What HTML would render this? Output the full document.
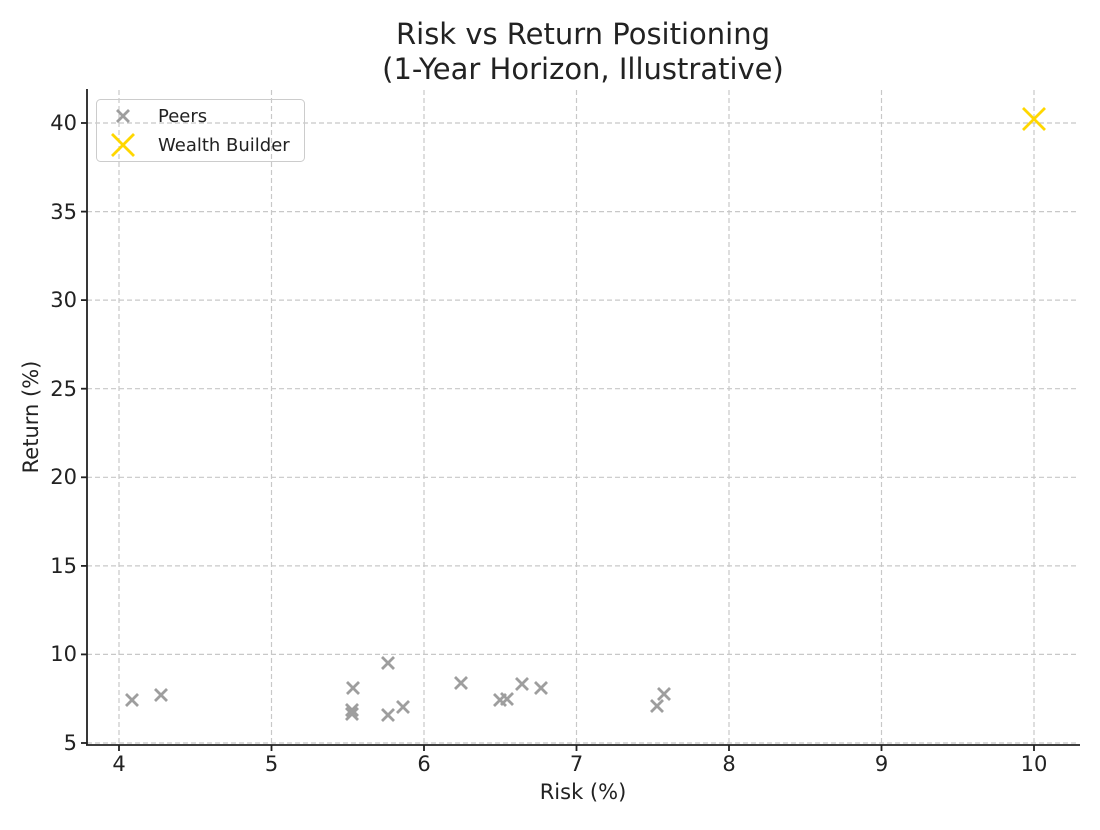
<!DOCTYPE html>
<html><head><meta charset="utf-8"><style>
body{margin:0;background:#fff;}
svg text{font-family:"DejaVu Sans","Liberation Sans",sans-serif;fill:#222;}
</style></head><body>
<svg width="1100" height="825" xmlns="http://www.w3.org/2000/svg">
<rect width="1100" height="825" fill="#fff"/>
<text x="583" y="44" text-anchor="middle" font-size="29" fill="#333">Risk vs Return Positioning</text>
<text x="583" y="79" text-anchor="middle" font-size="29" fill="#333">(1-Year Horizon, Illustrative)</text>
<g stroke="#c8c8c8" stroke-width="1.2" stroke-dasharray="5,3">
<line x1="119" y1="90" x2="119" y2="744"/><line x1="271.5" y1="90" x2="271.5" y2="744"/>
<line x1="424" y1="90" x2="424" y2="744"/><line x1="576.5" y1="90" x2="576.5" y2="744"/>
<line x1="729" y1="90" x2="729" y2="744"/><line x1="881.5" y1="90" x2="881.5" y2="744"/>
<line x1="1034" y1="90" x2="1034" y2="744"/>
<line x1="87" y1="743" x2="1079" y2="743"/><line x1="87" y1="654.4" x2="1079" y2="654.4"/>
<line x1="87" y1="565.9" x2="1079" y2="565.9"/><line x1="87" y1="477.3" x2="1079" y2="477.3"/>
<line x1="87" y1="388.7" x2="1079" y2="388.7"/><line x1="87" y1="300.1" x2="1079" y2="300.1"/>
<line x1="87" y1="211.6" x2="1079" y2="211.6"/><line x1="87" y1="123" x2="1079" y2="123"/>
</g>
<g stroke="#222" stroke-width="1.8">
<line x1="87" y1="89" x2="87" y2="745"/><line x1="86" y1="745" x2="1080" y2="745"/>
<line x1="119" y1="745" x2="119" y2="751"/><line x1="271.5" y1="745" x2="271.5" y2="751"/>
<line x1="424" y1="745" x2="424" y2="751"/><line x1="576.5" y1="745" x2="576.5" y2="751"/>
<line x1="729" y1="745" x2="729" y2="751"/><line x1="881.5" y1="745" x2="881.5" y2="751"/>
<line x1="1034" y1="745" x2="1034" y2="751"/>
<line x1="81" y1="743" x2="87" y2="743"/><line x1="81" y1="654.4" x2="87" y2="654.4"/>
<line x1="81" y1="565.9" x2="87" y2="565.9"/><line x1="81" y1="477.3" x2="87" y2="477.3"/>
<line x1="81" y1="388.7" x2="87" y2="388.7"/><line x1="81" y1="300.1" x2="87" y2="300.1"/>
<line x1="81" y1="211.6" x2="87" y2="211.6"/><line x1="81" y1="123" x2="87" y2="123"/>
</g>
<g font-size="21" text-anchor="middle">
<text x="119" y="771">4</text><text x="271.5" y="771">5</text><text x="424" y="771">6</text>
<text x="576.5" y="771">7</text><text x="729" y="771">8</text><text x="881.5" y="771">9</text>
<text x="1034" y="771">10</text>
</g>
<g font-size="21" text-anchor="end">
<text x="77" y="750">5</text><text x="77" y="661">10</text><text x="77" y="573">15</text>
<text x="77" y="484">20</text><text x="77" y="396">25</text><text x="77" y="307">30</text>
<text x="77" y="219">35</text><text x="77" y="130">40</text>
</g>
<text x="583" y="799" text-anchor="middle" font-size="21">Risk (%)</text>
<text transform="translate(38,417) rotate(-90)" text-anchor="middle" font-size="21">Return (%)</text>
<g stroke="#9e9e9e" stroke-width="2.8" fill="none">
<path d="M126,694l12,12m0-12l-12,12 M155,689l12,12m0-12l-12,12 M347,682l12,12m0-12l-12,12 M346,704l12,12m0-12l-12,12 M346,708l12,12m0-12l-12,12 M382,657l12,12m0-12l-12,12 M382,709l12,12m0-12l-12,12 M397,701l12,12m0-12l-12,12 M455,677l12,12m0-12l-12,12 M494,694l12,12m0-12l-12,12 M501,693l12,12m0-12l-12,12 M516,678l12,12m0-12l-12,12 M535,682l12,12m0-12l-12,12 M651,700l12,12m0-12l-12,12 M658,688l12,12m0-12l-12,12"/>
<path d="M117,110l12,12m0-12l-12,12"/>
</g>
<g stroke="#FFD700" stroke-width="2.8" fill="none">
<path d="M1023,108l22,22m0-22l-22,22"/>
<path d="M112,134l22,22m0-22l-22,22"/>
</g>
<rect x="96.5" y="99.5" width="208" height="62" rx="4" fill="none" stroke="#ccc"/>
<text x="158" y="122" font-size="18" fill="#333">Peers</text>
<text x="158" y="151" font-size="18" fill="#333">Wealth Builder</text>
</svg>
</body></html>
